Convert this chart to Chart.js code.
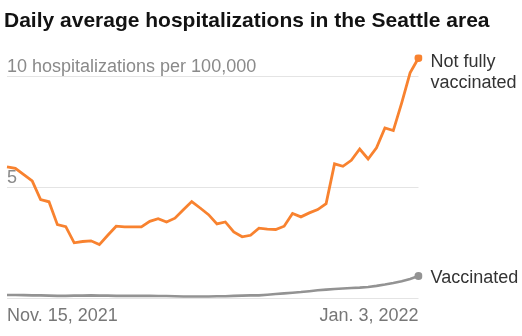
<!DOCTYPE html>
<html>
<head>
<meta charset="utf-8">
<script src="https://cdn.jsdelivr.net/npm/chart.js@4"></script>
<style>
  html, body { margin: 0; padding: 0; background: #fff; }
  #wrap { width: 522px; height: 336px; }
</style>
</head>
<body>
<div id="wrap"><canvas id="chartSeattle"></canvas></div>
<script>
const dates = [
  'Nov. 15, 2021', 'Nov. 16, 2021', 'Nov. 17, 2021', 'Nov. 18, 2021', 'Nov. 19, 2021',
  'Nov. 20, 2021', 'Nov. 21, 2021', 'Nov. 22, 2021', 'Nov. 23, 2021', 'Nov. 24, 2021',
  'Nov. 25, 2021', 'Nov. 26, 2021', 'Nov. 27, 2021', 'Nov. 28, 2021', 'Nov. 29, 2021',
  'Nov. 30, 2021', 'Dec. 1, 2021', 'Dec. 2, 2021', 'Dec. 3, 2021', 'Dec. 4, 2021',
  'Dec. 5, 2021', 'Dec. 6, 2021', 'Dec. 7, 2021', 'Dec. 8, 2021', 'Dec. 9, 2021',
  'Dec. 10, 2021', 'Dec. 11, 2021', 'Dec. 12, 2021', 'Dec. 13, 2021', 'Dec. 14, 2021',
  'Dec. 15, 2021', 'Dec. 16, 2021', 'Dec. 17, 2021', 'Dec. 18, 2021', 'Dec. 19, 2021',
  'Dec. 20, 2021', 'Dec. 21, 2021', 'Dec. 22, 2021', 'Dec. 23, 2021', 'Dec. 24, 2021',
  'Dec. 25, 2021', 'Dec. 26, 2021', 'Dec. 27, 2021', 'Dec. 28, 2021', 'Dec. 29, 2021',
  'Dec. 30, 2021', 'Dec. 31, 2021', 'Jan. 1, 2022', 'Jan. 2, 2022', 'Jan. 3, 2022'
];

// per 100,000, 7-day average
const notFullyVaccinated = [
  5.93, 5.87, 5.59, 5.30, 4.46, 4.36, 3.33, 3.24, 2.51, 2.57,
  2.60, 2.43, 2.85, 3.26, 3.23, 3.23, 3.23, 3.48, 3.60, 3.45,
  3.62, 4.00, 4.37, 4.08, 3.78, 3.36, 3.45, 3.00, 2.78, 2.85,
  3.17, 3.13, 3.11, 3.26, 3.83, 3.68, 3.86, 4.01, 4.28, 6.07,
  5.96, 6.23, 6.74, 6.29, 6.79, 7.69, 7.57, 8.82, 10.17, 10.84
];
const vaccinated = [
  0.16, 0.16, 0.15, 0.14, 0.14, 0.13, 0.12, 0.12, 0.13, 0.13,
  0.14, 0.13, 0.13, 0.12, 0.12, 0.12, 0.12, 0.12, 0.11, 0.11,
  0.10, 0.09, 0.09, 0.09, 0.09, 0.10, 0.10, 0.12, 0.13, 0.14,
  0.14, 0.17, 0.20, 0.23, 0.26, 0.29, 0.33, 0.37, 0.40, 0.43,
  0.45, 0.47, 0.49, 0.52, 0.57, 0.63, 0.70, 0.78, 0.88, 1.01
];

const yTicks = [0, 5, 10];
const yTickLabels = ['', '5', '10 hospitalizations per 100,000'];
const seriesLabels = [['Not fully', 'vaccinated'], ['Vaccinated']];
const headline = 'Daily average hospitalizations in the Seattle area';

const FONT = '"Liberation Sans", Arial, sans-serif';
const orange = '#f8822f';
const grey = '#939393';
const lastIdx = dates.length - 1;
const dotOnLast = (c) => (c.dataIndex === lastIdx ? 4 : 0);

// headline across the full width (chart title would be squeezed by the right padding)
const headlinePlugin = {
  id: 'headline',
  afterDraw(chart) {
    const c = chart.ctx;
    c.save();
    c.font = 'bold 21px ' + FONT;
    c.fillStyle = '#121212';
    c.textAlign = 'left';
    c.textBaseline = 'alphabetic';
    c.fillText(headline, 4, 27);
    c.restore();
  },
};

// labels next to the last point of each line
const endLabels = {
  id: 'endLabels',
  afterDatasetsDraw(chart) {
    const c = chart.ctx;
    c.save();
    c.font = '18px ' + FONT;
    c.fillStyle = '#333';
    c.textAlign = 'left';
    c.textBaseline = 'alphabetic';
    chart.data.datasets.forEach((ds, i) => {
      const pt = chart.getDatasetMeta(i).data[lastIdx];
      const lines = seriesLabels[i];
      const startY = lines.length > 1 ? pt.y + 9 : pt.y + 6.5;
      lines.forEach((txt, j) => {
        c.fillText(txt, pt.x + 12, startY + j * 21);
      });
    });
    c.restore();
  },
};

var ctx = document.getElementById('chartSeattle');
var myChart = new Chart(ctx, {
  type: 'line',
  data: {
    labels: dates,
    datasets: [
      {
        label: 'Not fully vaccinated',
        data: notFullyVaccinated,
        borderColor: orange,
        backgroundColor: orange,
        borderWidth: 2.8,
        pointRadius: dotOnLast,
        pointBorderWidth: 0,
        tension: 0,
      },
      {
        label: 'Vaccinated',
        data: vaccinated,
        borderColor: grey,
        backgroundColor: grey,
        borderWidth: 2.6,
        pointRadius: dotOnLast,
        pointBorderWidth: 0,
        tension: 0,
      },
    ],
  },
  options: {
    responsive: true,
    maintainAspectRatio: false,
    animation: false,
    layout: {
      padding: { left: 0, right: 103.5, top: 54.5, bottom: 0 },
    },
    plugins: {
      legend: { display: false },
      tooltip: { enabled: false },
      title: { display: false },
    },
    scales: {
      x: {
        offset: false,
        grid: { display: false, drawTicks: false },
        border: { display: false },
        afterFit: (scale) => {
          scale.height = 37.5;
        },
        ticks: {
          autoSkip: false,
          maxRotation: 0,
          align: 'inner',
          padding: 7,
          color: '#777',
          font: { family: FONT, size: 18 },
          callback: function (val, idx) {
            return idx === 0 || idx === lastIdx ? this.getLabelForValue(val) : '';
          },
        },
      },
      y: {
        min: 0,
        max: 11,
        afterBuildTicks: (scale) => {
          scale.ticks = yTicks.map((v) => ({ value: v }));
        },
        afterFit: (scale) => {
          scale.width = 3.5;
        },
        grid: { color: '#e4e4e4', lineWidth: 1, drawTicks: false },
        border: { display: false },
        ticks: {
          mirror: true,
          padding: 0,
          labelOffset: -10,
          color: '#8a8a8a',
          font: { family: FONT, size: 18 },
          callback: (val) => yTickLabels[yTicks.indexOf(val)],
        },
      },
    },
  },
  plugins: [endLabels, headlinePlugin],
});
</script>
</body>
</html>
